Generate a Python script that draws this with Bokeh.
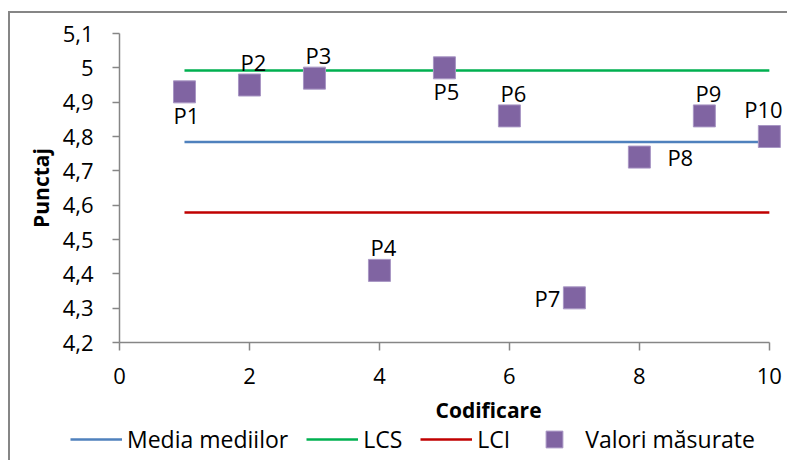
from bokeh.plotting import figure
from bokeh.models import (ColumnDataSource, Legend, LegendItem, Label, LabelSet,
                          FixedTicker, CustomJSTickFormatter, Range1d)
from bokeh.core.properties import value
from bokeh.embed import file_html
from bokeh.resources import INLINE

# ---- data ----
codes = [1, 2, 3, 4, 5, 6, 7, 8, 9, 10]
scores = [4.93, 4.95, 4.97, 4.41, 5.00, 4.86, 4.33, 4.74, 4.86, 4.80]
point_names = ["P1", "P2", "P3", "P4", "P5", "P6", "P7", "P8", "P9", "P10"]
label_place = ["below", "above", "above", "above", "below", "above", "left", "right", "above", "above_left"]
media_value = 4.784
lcs_value = 4.992
lci_value = 4.579
x_ticks = [0, 2, 4, 6, 8, 10]
y_ticks = [4.2, 4.3, 4.4, 4.5, 4.6, 4.7, 4.8, 4.9, 5.0, 5.1]
series_names = ["Media mediilor", "LCS", "LCI", "Valori măsurate"]

FONT = "Open Sans"
TXT = "#000000"
AX = "#868686"
C_MEDIA, C_LCS, C_LCI, C_PTS = "#4F81BD", "#00B050", "#C00000", "#8064A2"
C_EDGE = "#A896C4"

W = 779
p = figure(width=W, height=385, output_backend="svg", toolbar_location=None,
           x_range=Range1d(0, 10.31), y_range=Range1d(4.2, 5.1),
           min_border_left=109, min_border_right=0, min_border_top=20,
           min_border_bottom=56)
p.styles = {"border-left": "2px solid #868686", "border-top": "2px solid #868686",
            "margin-left": "8px", "margin-top": "11px"}
p.outline_line_color = None
p.background_fill_color = "white"
p.border_fill_color = "white"
p.xgrid.visible = False
p.ygrid.visible = False

for ax in (p.xaxis[0], p.yaxis[0]):
    ax.axis_line_color = AX
    ax.axis_line_width = 1.5
    ax.major_tick_line_color = AX
    ax.major_tick_line_width = 1.5
    ax.major_tick_in = 0
    ax.minor_tick_line_color = None
    ax.major_label_text_font = FONT
    ax.major_label_text_font_size = "22px"
    ax.major_label_text_color = TXT

p.xaxis.ticker = FixedTicker(ticks=x_ticks)
p.xaxis.bounds = (0, 10)
p.xaxis.major_tick_out = 8
p.xaxis.major_label_standoff = 17

p.yaxis.ticker = FixedTicker(ticks=y_ticks)
p.yaxis.major_tick_out = 7
p.yaxis.major_label_standoff = 19
p.yaxis.formatter = CustomJSTickFormatter(
    code="var v = Math.round(tick*10)/10; return v.toString().replace('.', ',');")
p.yaxis.axis_label = "Punctaj"
p.yaxis.axis_label_text_font = FONT
p.yaxis.axis_label_text_font_style = "bold"
p.yaxis.axis_label_text_font_size = "21px"
p.yaxis.axis_label_text_color = TXT
p.yaxis.axis_label_standoff = 5

n = len(codes)
p.line(codes, [media_value] * n, line_color=C_MEDIA, line_width=2.5)
p.line(codes, [lcs_value] * n, line_color=C_LCS, line_width=2.5)
p.line(codes, [lci_value] * n, line_color=C_LCI, line_width=2.5)

offsets = {"below": (2, -23, "center"), "above": (4, 23, "center"),
           "above_left": (-6, 28, "center"),
           "left": (-14, 0, "right"), "right": (28, 0, "left")}
xo = [offsets[k][0] for k in label_place]
yo = [offsets[k][1] for k in label_place]
al = [offsets[k][2] for k in label_place]
src = ColumnDataSource(dict(x=codes, y=scores, name=point_names, xo=xo, yo=yo, al=al))
p.scatter("x", "y", source=src, marker="square", size=22,
          fill_color=C_PTS, line_color=C_EDGE, line_width=1)
p.add_layout(LabelSet(x="x", y="y", text="name", source=src, x_offset="xo", y_offset="yo",
                      text_align="al", text_baseline="middle",
                      text_font=value(FONT), text_font_size="22px", text_color=TXT))

# ---- lower strip: x-axis title and legend ----
H2 = 64
q = figure(width=W, height=H2, output_backend="svg", toolbar_location=None,
           x_range=Range1d(0, W), y_range=Range1d(0, H2),
           x_axis_type=None, y_axis_type=None,
           min_border_left=0, min_border_right=0, min_border_top=0, min_border_bottom=0)
q.styles = {"border-left": "2px solid #868686", "margin-left": "8px"}
q.outline_line_color = None
q.xgrid.visible = False
q.ygrid.visible = False
q.add_layout(Label(x=425, y=51, text="Codificare", text_font=FONT,
                   text_font_style="bold", text_font_size="21px", text_color=TXT,
                   text_baseline="middle", text_align="left"))

# legend proxies (hidden; they only lend their style to the legend)
l1 = q.line(codes, [media_value] * n, line_color=C_MEDIA, line_width=2.5, visible=False)
l2 = q.line(codes, [lcs_value] * n, line_color=C_LCS, line_width=2.5, visible=False)
l3 = q.line(codes, [lci_value] * n, line_color=C_LCI, line_width=2.5, visible=False)
l4 = q.scatter(codes, scores, marker="square", size=17, fill_color=C_PTS,
               line_color=C_EDGE, visible=False)
legend = Legend(items=[LegendItem(label=s, renderers=[r])
                       for s, r in zip(series_names, [l1, l2, l3, l4])],
                orientation="horizontal", location=(60, 0),
                glyph_width=52, glyph_height=42, label_standoff=5, spacing=18,
                padding=0, margin=0, border_line_color=None, background_fill_alpha=0,
                inactive_fill_alpha=0,
                label_text_font=FONT, label_text_font_size="23px", label_text_color=TXT)
q.add_layout(legend)

open("out.html", "w").write(file_html([p, q], INLINE))
